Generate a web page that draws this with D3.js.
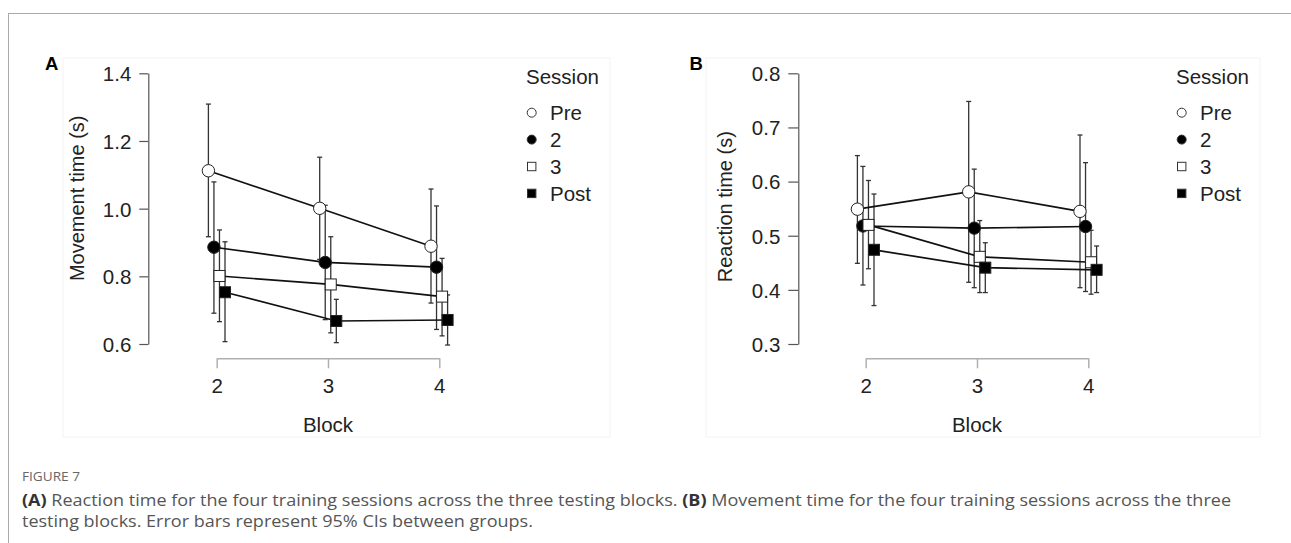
<!DOCTYPE html>
<html>
<head>
<meta charset="utf-8">
<script src="https://cdn.jsdelivr.net/npm/d3@7"></script>
<style>
  body { margin: 0; background: #fff; }
  svg { display: block; }
  .caption { font-family: "Open Sans", sans-serif; fill: #555; }
</style>
</head>
<body>
<div id="chart"></div>
<script>
// ---- data ----
const blocks = [2, 3, 4];
const sessions = ["Pre", "2", "3", "Post"];

// panel A: movement time (s), mean and 95% CI per block
const mtMean = {
  "Pre":  [1.112, 1.001, 0.889],
  "2":    [0.886, 0.841, 0.827],
  "3":    [0.801, 0.776, 0.740],
  "Post": [0.753, 0.668, 0.671]
};
const mtLow = {
  "Pre":  [0.917, 0.850, 0.721],
  "2":    [0.691, 0.672, 0.643],
  "3":    [0.666, 0.633, 0.624],
  "Post": [0.607, 0.604, 0.597]
};
const mtHigh = {
  "Pre":  [1.309, 1.152, 1.058],
  "2":    [1.079, 1.010, 1.008],
  "3":    [0.937, 0.917, 0.853],
  "Post": [0.902, 0.732, 0.745]
};

// panel B: reaction time (s)
const rtMean = {
  "Pre":  [0.549, 0.581, 0.545],
  "2":    [0.518, 0.514, 0.517],
  "3":    [0.520, 0.461, 0.451],
  "Post": [0.474, 0.441, 0.437]
};
const rtLow = {
  "Pre":  [0.449, 0.414, 0.404],
  "2":    [0.409, 0.404, 0.397],
  "3":    [0.439, 0.395, 0.392],
  "Post": [0.371, 0.395, 0.395]
};
const rtHigh = {
  "Pre":  [0.648, 0.748, 0.686],
  "2":    [0.628, 0.623, 0.635],
  "3":    [0.602, 0.528, 0.510],
  "Post": [0.577, 0.487, 0.481]
};

const mtTicks = [0.6, 0.8, 1.0, 1.2, 1.4];
const rtTicks = [0.3, 0.4, 0.5, 0.6, 0.7, 0.8];

// marker style per session
const markerShape = { "Pre": "circle", "2": "circle", "3": "square", "Post": "square" };
const markerFill  = { "Pre": "#fff", "2": "#000", "3": "#fff", "Post": "#000" };

const FONT = "'Liberation Sans', Arial, sans-serif";
const W = 1291, H = 543;
const svg = d3.select("#chart").append("svg")
  .attr("width", W)
  .attr("height", H);

// page frame
svg.append("line").attr("x1", 8).attr("x2", W).attr("y1", 13.5).attr("y2", 13.5)
  .attr("stroke", "#aaa").attr("stroke-width", 1);
svg.append("line").attr("x1", 8.5).attr("x2", 8.5).attr("y1", 13).attr("y2", H)
  .attr("stroke", "#aaa").attr("stroke-width", 1);

// text that looks a bit wider than the plain font (the figure was stretched)
function wideText(sel, sx) {
  return sel.style("font-family", FONT).style("fill", "#222");
}

function drawPanel(p) {
  let g = svg.append("g");

  // faint box of the pasted panel image
  g.append("rect")
    .attr("x", p.box[0]).attr("y", p.box[1])
    .attr("width", p.box[2]).attr("height", p.box[3])
    .attr("fill", "none").attr("stroke", "#f3f3f3");

  let x = d3.scaleLinear().domain([2, 4]).range(p.xRange);
  let y = d3.scaleLinear().domain(d3.extent(p.ticks)).range([344, 73.3]);
  let dodge = d3.scalePoint().domain(sessions).range([-8.3, 8.3]);

  // y axis
  let yAxis = d3.axisLeft(y)
    .tickValues(p.ticks)
    .tickFormat(d3.format(".1f"))
    .tickSize(p.tickLen)
    .tickSizeOuter(0)
    .tickPadding(8);
  let ya = g.append("g")
    .attr("transform", "translate(" + p.yAxisX + ",0)")
    .call(yAxis);
  ya.select(".domain").attr("stroke", "#555").attr("stroke-width", 1.2);
  ya.selectAll(".tick line").attr("stroke", "#555").attr("stroke-width", 1.2);
  ya.selectAll(".tick text")
    .style("font-family", FONT).style("font-size", "20.5px").style("fill", "#222")
    .attr("dy", "0.36em");

  // x axis (bracket)
  let xAxis = d3.axisBottom(x)
    .tickValues(blocks)
    .tickFormat(d3.format("d"))
    .tickSize(10)
    .tickSizeOuter(0)
    .tickPadding(10.5);
  let xa = g.append("g")
    .attr("transform", "translate(0,358.3)")
    .call(xAxis);
  xa.select(".domain").attr("stroke", "#b0b0b0").attr("stroke-width", 1.5);
  xa.selectAll(".tick line").attr("stroke", "#b0b0b0").attr("stroke-width", 1.5);
  xa.selectAll(".tick text")
    .style("font-family", FONT).style("font-size", "20.5px").style("fill", "#222");

  // axis titles
  g.append("text")
    .attr("transform", "translate(" + p.yTitleX + "," + p.yTitleY + ") rotate(-90)")
    .attr("text-anchor", "middle")
    .style("font-family", FONT)
    .style("font-size", "20px")
    .style("fill", "#222")
    .text(p.yTitle);

  g.append("text")
    .attr("x", (p.xRange[0] + p.xRange[1]) / 2)
    .attr("y", 431.7)
    .attr("text-anchor", "middle")
    .style("font-family", FONT)
    .style("font-size", "20.5px")
    .style("fill", "#222")
    .text("Block");

  // panel letter
  g.append("text")
    .attr("x", p.letterX).attr("y", 69.5)
    .style("font-family", FONT)
    .style("font-size", "18.5px")
    .style("font-weight", "bold")
    .style("fill", "#000")
    .text(p.letter);

  // build point records
  let series = sessions.map(s => ({
    key: s,
    values: blocks.map((b, i) => ({
      block: b, session: s,
      mean: p.mean[s][i], low: p.low[s][i], high: p.high[s][i]
    }))
  }));
  let px = d => x(d.block) + dodge(d.session);

  // error bars
  let allPts = series.flatMap(s => s.values);
  let eb = g.append("g").attr("stroke", "#333").attr("stroke-width", 1.3);
  eb.selectAll(".ci")
    .data(allPts)
    .enter().append("line")
    .attr("class", "ci")
    .attr("x1", px).attr("x2", px)
    .attr("y1", d => y(d.low)).attr("y2", d => y(d.high));
  eb.selectAll(".cap-hi")
    .data(allPts)
    .enter().append("line")
    .attr("class", "cap-hi")
    .attr("x1", d => px(d) - 2.5).attr("x2", d => px(d) + 2.5)
    .attr("y1", d => y(d.high)).attr("y2", d => y(d.high));
  eb.selectAll(".cap-lo")
    .data(allPts)
    .enter().append("line")
    .attr("class", "cap-lo")
    .attr("x1", d => px(d) - 2.5).attr("x2", d => px(d) + 2.5)
    .attr("y1", d => y(d.low)).attr("y2", d => y(d.low));

  // connecting lines
  let line = d3.line().x(px).y(d => y(d.mean));
  g.selectAll(".series-line")
    .data(series)
    .enter().append("path")
    .attr("class", "series-line")
    .attr("d", d => line(d.values))
    .attr("fill", "none")
    .attr("stroke", "#111")
    .attr("stroke-width", 1.7);

  // markers
  let pts = g.selectAll(".pt")
    .data(allPts)
    .enter().append("g")
    .attr("class", "pt")
    .attr("transform", d => "translate(" + px(d) + "," + y(d.mean) + ")");
  pts.filter(d => markerShape[d.session] === "circle")
    .append("circle")
    .attr("r", 6.2)
    .attr("fill", d => markerFill[d.session])
    .attr("stroke", "#222").attr("stroke-width", 1);
  pts.filter(d => markerShape[d.session] === "square")
    .append("rect")
    .attr("x", -5.5).attr("y", -5.5)
    .attr("width", 11).attr("height", 11)
    .attr("fill", d => markerFill[d.session])
    .attr("stroke", "#222").attr("stroke-width", 1);

  // legend
  let lg = g.append("g").attr("transform", "translate(" + p.legendX + ",0)");
  lg.append("text")
    .attr("x", 0).attr("y", 84)
    .style("font-family", FONT)
    .style("font-size", "20.5px")
    .style("fill", "#222")
    .text("Session");
  let items = lg.selectAll(".item")
    .data(sessions)
    .enter().append("g")
    .attr("class", "item")
    .attr("transform", (d, i) => "translate(0," + (112.7 + i * 26.9) + ")");
  items.filter(d => markerShape[d] === "circle")
    .append("circle")
    .attr("cx", 5.7).attr("r", 4.5)
    .attr("fill", d => markerFill[d])
    .attr("stroke", "#333").attr("stroke-width", 1);
  items.filter(d => markerShape[d] === "square")
    .append("rect")
    .attr("x", 1.5).attr("y", -4.2).attr("width", 8.4).attr("height", 8.4)
    .attr("fill", d => markerFill[d])
    .attr("stroke", "#333").attr("stroke-width", 1);
  items.append("text")
    .attr("x", 24).attr("dy", "0.36em")
    .style("font-family", FONT)
    .style("font-size", "20.5px")
    .style("fill", "#222")
    .text(d => d);
}

drawPanel({
  letter: "A", letterX: 45,
  box: [63, 58, 547, 379],
  xRange: [216.7, 439.3],
  yAxisX: 148.3, tickLen: 9,
  ticks: mtTicks,
  yTitle: "Movement time (s)", yTitleX: 84, yTitleY: 198.3,
  mean: mtMean, low: mtLow, high: mtHigh,
  legendX: 526
});

drawPanel({
  letter: "B", letterX: 689.5,
  box: [706, 58, 554, 379],
  xRange: [865.7, 1088.3],
  yAxisX: 798.3, tickLen: 10,
  ticks: rtTicks,
  yTitle: "Reaction time (s)", yTitleX: 731.5, yTitleY: 206.7,
  mean: rtMean, low: rtLow, high: rtHigh,
  legendX: 1176
});

// caption: the journal font is narrow, so stretch the lines to the measured width
let capG = svg.append("g").attr("class", "caption");

let fig = capG.append("text")
  .attr("x", 0).attr("y", 0)
  .style("font-size", "12px")
  .style("fill", "#666")
  .text("FIGURE 7");

let cap1 = capG.append("text").attr("x", 0).attr("y", 0).style("font-size", "16px");
cap1.append("tspan").style("font-weight", "bold").style("fill", "#333").text("(A)");
cap1.append("tspan").text(" Reaction time for the four training sessions across the three testing blocks. ");
cap1.append("tspan").style("font-weight", "bold").style("fill", "#333").text("(B)");
cap1.append("tspan").text(" Movement time for the four training sessions across the three");

let cap2 = capG.append("text").attr("x", 0).attr("y", 0).style("font-size", "16px")
  .text("testing blocks. Error bars represent 95% CIs between groups.");

let sx = 1210 / cap1.node().getComputedTextLength();
let sxFig = 58 / fig.node().getComputedTextLength();
fig.attr("transform", "translate(22,481) scale(" + sxFig + ",1)");
cap1.attr("transform", "translate(22,505.5) scale(" + sx + ",1)");
cap2.attr("transform", "translate(22,526.5) scale(" + sx + ",1)");
</script>
</body>
</html>
